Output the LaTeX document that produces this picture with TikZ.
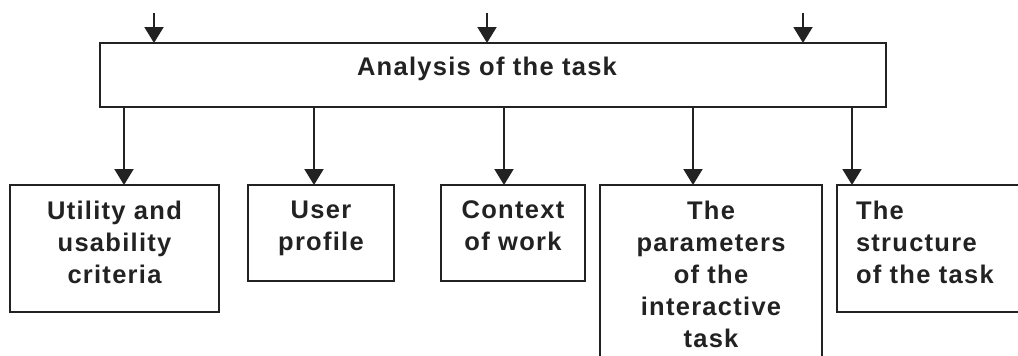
\documentclass[tikz,border=0pt]{standalone}
\usepackage{fontspec}
\setmainfont{Liberation Sans}
\newfontfamily\boxfont[LetterSpace=5]{Liberation Sans Bold}
\usetikzlibrary{arrows.meta}
\definecolor{ink}{RGB}{34,34,34}

\begin{document}
\begin{tikzpicture}[x=1pt, y=-1pt,
    frame/.style={draw=ink, line width=2pt, inner sep=0pt, outer sep=0pt,
                  anchor=north west},
    lbl/.style={text=ink, inner sep=0pt, outer sep=0pt,
                font=\boxfont\fontsize{25.5}{32}\selectfont},
    arr/.style={draw=ink, line width=2pt,
                -{Triangle[length=16pt,width=19pt]}}]
  \useasboundingbox (0,0) rectangle (1018,356);
  \clip (0,0) rectangle (1018,356);

  % main analysis box
  \node[frame, minimum width=786pt, minimum height=64pt] (ana) at (100,43) {};
  \node[lbl, anchor=base] at ([xshift=-6pt]ana.center) {Analysis of the task};

  % the five result boxes
  \node[frame, minimum width=209pt, minimum height=127pt] (b1) at (10,185) {};
  \node[frame, minimum width=146pt, minimum height=96pt]  (b2) at (248,185) {};
  \node[frame, minimum width=144pt, minimum height=96pt]  (b3) at (441,185) {};
  \node[frame, minimum width=222pt, minimum height=230pt] (b4) at (600,185) {};
  \node[frame, minimum width=230pt, minimum height=127pt] (b5) at (837,185) {};

  \node[lbl, anchor=north, align=center] at ([yshift=-16pt]b1.north)
    {Utility and\\usability\\criteria};
  \node[lbl, anchor=north, align=center] at ([yshift=-16pt]b2.north)
    {User\\profile};
  \node[lbl, anchor=north, align=center] at ([yshift=-16pt]b3.north)
    {Context\\of work};
  \node[lbl, anchor=north, align=center] at ([yshift=-16pt]b4.north)
    {The\\parameters\\of the\\interactive\\task};
  \node[lbl, anchor=north west, align=left] at ([xshift=19pt,yshift=-16pt]b5.north west)
    {The\\structure\\of the task};

  % incoming arrows
  \coordinate (in1) at (154,13);
  \coordinate (in2) at (487,13);
  \coordinate (in3) at (803,13);
  \foreach \c in {in1,in2,in3}
    \draw[arr] (\c) -- (\c |- ana.north);

  % outgoing arrows
  \coordinate (x1) at (124,0);
  \coordinate (x2) at (314,0);
  \coordinate (x3) at (504,0);
  \coordinate (x4) at (693,0);
  \coordinate (x5) at (852,0);
  \draw[arr] (ana.south -| x1) -- (b1.north -| x1);
  \draw[arr] (ana.south -| x2) -- (b2.north -| x2);
  \draw[arr] (ana.south -| x3) -- (b3.north -| x3);
  \draw[arr] (ana.south -| x4) -- (b4.north -| x4);
  \draw[arr] (ana.south -| x5) -- (b5.north -| x5);
\end{tikzpicture}
\end{document}
